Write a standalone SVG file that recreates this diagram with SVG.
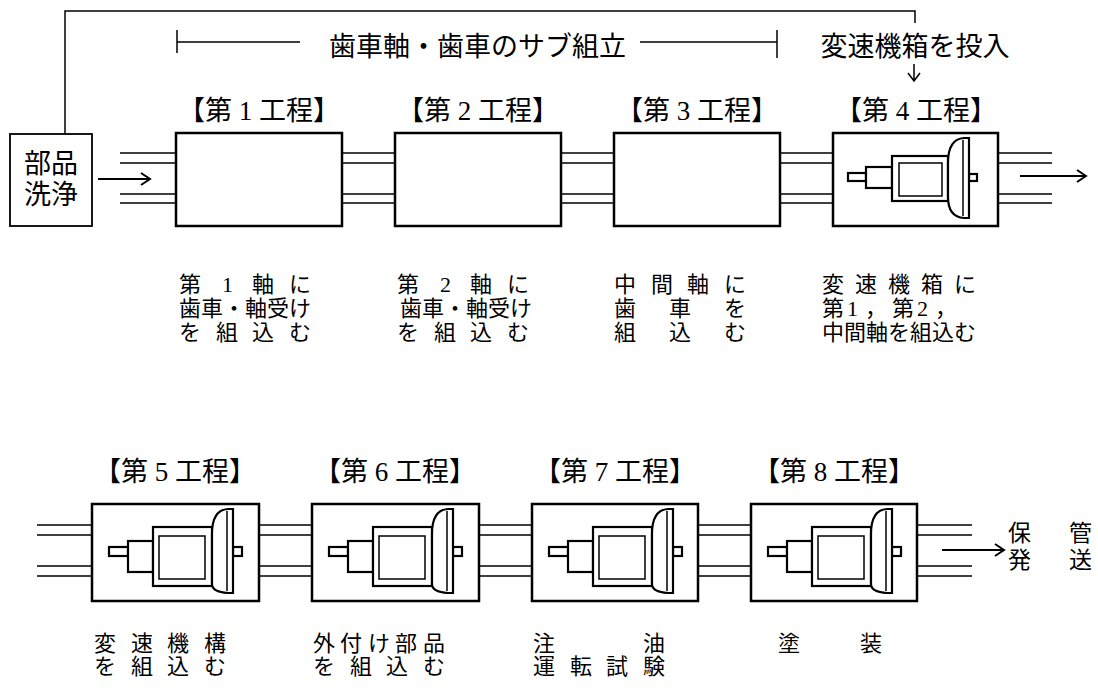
<svg xmlns="http://www.w3.org/2000/svg" width="1098" height="694" viewBox="0 0 1098 694">
  <style>
    text { font-family: 'Liberation Serif', 'Noto Sans CJK JP', serif; fill: #000; }
    .big { font-size: 27px; }
    .cap { font-size: 22px; }
    .out { font-size: 23px; }
    .box { fill: #fff; stroke: #000; stroke-width: 2.5; }
    .belt { stroke: #000; stroke-width: 1.4; fill: none; }
    .thin { stroke: #000; stroke-width: 1.5; fill: none; }
    .arr { stroke: #000; stroke-width: 2; fill: none; }
    .part { fill: #fff; stroke: #000; stroke-width: 2.2; }
    .inner { fill: none; stroke: #000; stroke-width: 1.5; }
  </style>
  <defs>
    <!-- gearbox drawing, upper row proportions -->
    <g id="gearboxA">
      <rect class="part" x="15" y="40" width="18" height="8"/>
      <rect class="part" x="33" y="34" width="26" height="21"/>
      <rect class="part" x="59" y="23" width="56" height="45"/>
      <rect class="inner" x="66" y="30" width="43" height="33"/>
      <rect class="part" x="136" y="41" width="8" height="7"/>
      <path class="part" d="M115,64 V30 Q115,6 131,5 H136 V85 H131 Q115,84 115,64 Z"/>
      <line class="inner" x1="130" y1="7" x2="130" y2="83"/>
    </g>
    <!-- gearbox drawing, lower row proportions -->
    <g id="gearboxB">
      <rect class="part" x="17" y="43" width="19" height="9"/>
      <rect class="part" x="36" y="37" width="25" height="31"/>
      <rect class="part" x="61" y="23" width="59" height="59"/>
      <rect class="inner" x="67" y="32" width="46" height="43"/>
      <rect class="part" x="141" y="43" width="9" height="9"/>
      <path class="part" d="M120,80 V30 Q120,6 136,5 H141 V89 H136 Q120,88 120,80 Z"/>
      <line class="inner" x1="135" y1="7" x2="135" y2="87"/>
    </g>
  </defs>

  <!-- connectors: feed line, bracket, conveyor rails and arrows -->
  <g id="connectors">
    <polyline class="thin" points="65,134 65,11 915,11 915,23"/>
    <path class="thin" d="M177,30 V53 M177,42 H300 M640,42 H777 M777,30 V58"/>
    <path class="thin" d="M914,64 V81 M908,73 L914,81 L920,73"/>

    <!-- upper conveyor -->
    <path class="belt" d="M120,153 H176 M120,163 H176 M120,194 H176 M120,203 H176"/>
    <path class="belt" d="M342,153 H395 M342,163 H395 M342,194 H395 M342,203 H395"/>
    <path class="belt" d="M561,153 H614 M561,163 H614 M561,194 H614 M561,203 H614"/>
    <path class="belt" d="M780,153 H833 M780,163 H833 M780,194 H833 M780,203 H833"/>
    <path class="belt" d="M998,153 H1052 M998,163 H1052 M998,194 H1052 M998,203 H1052"/>
    <path class="arr" d="M98,179 H149 M141,173 L150,179 L141,185"/>
    <path class="arr" d="M1020,176 H1085 M1077,170 L1086,176 L1077,182"/>

    <!-- lower conveyor -->
    <path class="belt" d="M37,525 H92 M37,535 H92 M37,566 H92 M37,576 H92"/>
    <path class="belt" d="M259,525 H312 M259,535 H312 M259,566 H312 M259,576 H312"/>
    <path class="belt" d="M479,525 H532 M479,535 H532 M479,566 H532 M479,576 H532"/>
    <path class="belt" d="M698,525 H751 M698,535 H751 M698,566 H751 M698,576 H751"/>
    <path class="belt" d="M917,525 H972 M917,535 H972 M917,566 H972 M917,576 H972"/>
    <path class="arr" d="M942,550 H1003 M995,544 L1004,550 L995,556"/>
  </g>

  <!-- headings above the upper row -->
  <g id="headings">
    <text class="big" x="329" y="56">歯車軸・歯車のサブ組立</text>
    <text class="big" x="915" y="56" text-anchor="middle">変速機箱を投入</text>
  </g>

  <g id="wash">
    <rect class="box" x="10" y="134" width="82" height="92" style="stroke-width:1.8"/>
    <text class="big" x="51" y="173" text-anchor="middle">部品</text>
    <text class="big" x="51" y="204" text-anchor="middle">洗浄</text>
  </g>

  <g id="step1">
    <text class="big" x="259" y="120" text-anchor="middle">【第 1 工程】</text>
    <rect class="box" x="176" y="133" width="166" height="93"/>
    <text class="cap" y="292"><tspan x="179">第</tspan><tspan x="222">1</tspan><tspan x="252">軸</tspan><tspan x="289">に</tspan></text>
    <text class="cap" x="179" y="316">歯車・軸受け</text>
    <text class="cap" y="340"><tspan x="179">を</tspan><tspan x="216">組</tspan><tspan x="252">込</tspan><tspan x="289">む</tspan></text>
  </g>

  <g id="step2">
    <text class="big" x="478" y="120" text-anchor="middle">【第 2 工程】</text>
    <rect class="box" x="395" y="133" width="166" height="93"/>
    <text class="cap" y="292"><tspan x="397">第</tspan><tspan x="440">2</tspan><tspan x="470">軸</tspan><tspan x="507">に</tspan></text>
    <text class="cap" x="400" y="316">歯車・軸受け</text>
    <text class="cap" y="340"><tspan x="397">を</tspan><tspan x="434">組</tspan><tspan x="470">込</tspan><tspan x="507">む</tspan></text>
  </g>

  <g id="step3">
    <text class="big" x="697" y="120" text-anchor="middle">【第 3 工程】</text>
    <rect class="box" x="614" y="133" width="166" height="93"/>
    <text class="cap" y="292"><tspan x="614">中</tspan><tspan x="651">間</tspan><tspan x="687">軸</tspan><tspan x="724">に</tspan></text>
    <text class="cap" y="316"><tspan x="614">歯</tspan><tspan x="669">車</tspan><tspan x="724">を</tspan></text>
    <text class="cap" y="340"><tspan x="614">組</tspan><tspan x="669">込</tspan><tspan x="724">む</tspan></text>
  </g>

  <g id="step4">
    <text class="big" x="916" y="120" text-anchor="middle">【第 4 工程】</text>
    <rect class="box" x="833" y="133" width="165" height="93"/>
    <use href="#gearboxA" x="833" y="133"/>
    <text class="cap" y="292"><tspan x="822">変</tspan><tspan x="855">速</tspan><tspan x="888">機</tspan><tspan x="921">箱</tspan><tspan x="954">に</tspan></text>
    <text class="cap" y="316"><tspan x="822">第</tspan><tspan x="847">1</tspan><tspan x="865">，</tspan><tspan x="892">第</tspan><tspan x="917">2</tspan><tspan x="935">，</tspan></text>
    <text class="cap" x="822" y="340">中間軸を組込む</text>
  </g>

  <g id="step5">
    <text class="big" x="175" y="481" text-anchor="middle">【第 5 工程】</text>
    <rect class="box" x="92" y="504" width="167" height="97"/>
    <use href="#gearboxB" x="92" y="504"/>
    <text class="cap" y="651"><tspan x="94">変</tspan><tspan x="131">速</tspan><tspan x="167">機</tspan><tspan x="204">構</tspan></text>
    <text class="cap" y="674"><tspan x="94">を</tspan><tspan x="131">組</tspan><tspan x="167">込</tspan><tspan x="204">む</tspan></text>
  </g>

  <g id="step6">
    <text class="big" x="395" y="481" text-anchor="middle">【第 6 工程】</text>
    <rect class="box" x="312" y="504" width="167" height="97"/>
    <use href="#gearboxB" x="312" y="504"/>
    <text class="cap" y="651"><tspan x="313">外</tspan><tspan x="340">付</tspan><tspan x="368">け</tspan><tspan x="395">部</tspan><tspan x="423">品</tspan></text>
    <text class="cap" y="674"><tspan x="313">を</tspan><tspan x="350">組</tspan><tspan x="386">込</tspan><tspan x="423">む</tspan></text>
  </g>

  <g id="step7">
    <text class="big" x="615" y="481" text-anchor="middle">【第 7 工程】</text>
    <rect class="box" x="532" y="504" width="166" height="97"/>
    <use href="#gearboxB" x="532" y="504"/>
    <text class="cap" y="651"><tspan x="533">注</tspan><tspan x="643">油</tspan></text>
    <text class="cap" y="674"><tspan x="533">運</tspan><tspan x="570">転</tspan><tspan x="606">試</tspan><tspan x="643">験</tspan></text>
  </g>

  <g id="step8">
    <text class="big" x="834" y="481" text-anchor="middle">【第 8 工程】</text>
    <rect class="box" x="751" y="504" width="166" height="97"/>
    <use href="#gearboxB" x="751" y="504"/>
    <text class="cap" y="651"><tspan x="778">塗</tspan><tspan x="860">装</tspan></text>
  </g>

  <g id="storage">
    <text class="out" y="541"><tspan x="1008">保</tspan><tspan x="1069">管</tspan></text>
    <text class="out" y="568"><tspan x="1008">発</tspan><tspan x="1069">送</tspan></text>
  </g>
</svg>
